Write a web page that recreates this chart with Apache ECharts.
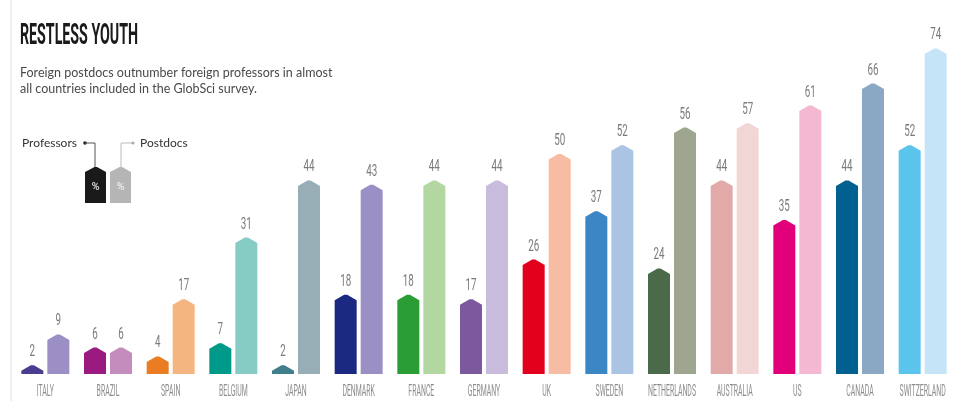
<!DOCTYPE html>
<html>
<head>
<meta charset="utf-8">
<script src="https://cdn.jsdelivr.net/npm/echarts@6/dist/echarts.min.js"></script>
<style>
html,body{margin:0;padding:0;background:#fff;}
#chart{width:954px;height:401px;}
</style>
</head>
<body>
<div id="chart"></div>
<script>
const categories = ['ITALY','BRAZIL','SPAIN','BELGIUM','JAPAN','DENMARK','FRANCE','GERMANY','UK','SWEDEN','NETHERLANDS','AUSTRALIA','US','CANADA','SWITZERLAND'];
const professors = [2,6,4,7,2,18,18,17,26,37,24,44,35,44,52];
const postdocs = [9,6,17,31,44,43,44,44,50,52,56,57,61,66,74];
const profColors = ['#4a3d8f','#9b1a7f','#ea7d22','#009a8a','#3e7f8b','#1b2a80','#2a9d34','#7c599f','#e2001c','#3b86c4','#4b6a4a','#e2a9a9','#e2007a','#00608f','#5bc4ec'];
const postColors = ['#9c8fc6','#c48bbd','#f5b581','#86cbc4','#98aeb6','#9a90c5','#b3d7a0','#c8bbdb','#f7bca4','#acc4e3','#9fa68f','#f2d5d5','#f4b8d3','#8aa8c4','#c6e4f7'];

const BASE = "Roboto, 'DejaVu Sans', sans-serif";
const measureCtx = document.createElement('canvas').getContext('2d');
function fitScale(text, font, width) {
  measureCtx.font = font;
  return width / measureCtx.measureText(text).width;
}
const VAL_FONT = '16px ' + BASE;
const VAL_SCALE = fitScale('44', VAL_FONT, 11);
const CAT_FONT = '16.5px ' + BASE;
const CAT_SCALE = fitScale('NETHERLANDS', CAT_FONT, 48);
const TITLE_FONT = 'bold 29px ' + BASE;
const TITLE_SCALE = fitScale('RESTLESS YOUTH', TITLE_FONT, 118);

function makeRender(colors, offset, withCategory) {
  return function (params, api) {
    const idx = api.value(0);
    const v = api.value(1);
    const base = api.coord([idx, 0]);
    const top = api.coord([idx, v]);
    const cx = base[0] + offset;
    const w = 22;
    const x0 = cx - w / 2, x1 = cx + w / 2;
    const h = base[1] - top[1];
    const ch = Math.min(5.5, h * 0.85);
    const pts = [[x0, base[1]], [x0, top[1] + ch], [cx - 1.5, top[1]], [cx + 1.5, top[1]], [x1, top[1] + ch], [x1, base[1]]];
    const children = [
      { type: 'polygon', shape: { points: pts }, style: { fill: colors[idx] } },
      { type: 'text', x: cx, y: top[1] - 13, scaleX: VAL_SCALE, style: { text: String(v), x: 0, y: 0, align: 'center', verticalAlign: 'middle', fill: '#7a7a7a', font: VAL_FONT } }
    ];
    if (withCategory) {
      children.push({ type: 'text', x: base[0], y: base[1] + 18, scaleX: CAT_SCALE, style: { text: categories[idx], x: 0, y: 0, align: 'center', verticalAlign: 'middle', fill: '#8c8c8c', font: CAT_FONT } });
    }
    return { type: 'group', children: children };
  };
}

const chart = echarts.init(document.getElementById('chart'), null, { renderer: 'canvas' });
chart.setOption({
  backgroundColor: '#fff',
  animation: false,
  grid: { left: 14, right: 0, top: 44, bottom: 27, containLabel: false, outerBoundsMode: 'none' },
  xAxis: {
    type: 'category',
    data: categories,
    axisLine: { show: false },
    axisTick: { show: false },
    axisLabel: { show: false }
  },
  yAxis: { type: 'value', min: 0, max: 75, show: false, splitLine: { show: false } },
  series: [
    { type: 'custom', name: 'Professors', renderItem: makeRender(profColors, -13, true), data: professors.map((v, i) => [i, v]), encode: { x: 0, y: 1 }, clip: false },
    { type: 'custom', name: 'Postdocs', renderItem: makeRender(postColors, 13, false), data: postdocs.map((v, i) => [i, v]), encode: { x: 0, y: 1 }, clip: false }
  ],
  graphic: [
    { type: 'rect', left: 10, top: 0, shape: { width: 2, height: 401 }, style: { fill: '#f0f0f0' } },
    { type: 'text', x: 20, y: 37, scaleX: TITLE_SCALE, style: { text: 'RESTLESS YOUTH', x: 0, y: 0, verticalAlign: 'middle', fill: '#1a1a1a', font: TITLE_FONT } },
    { type: 'text', x: 20, y: 65, style: { text: 'Foreign postdocs outnumber foreign professors in almost\nall countries included in the GlobSci survey.', fill: '#4a4a4a', font: '12.5px Lato, sans-serif', lineHeight: 16 } },
    { type: 'text', x: 22, y: 143, style: { text: 'Professors', fill: '#333', font: '12px Lato, sans-serif', verticalAlign: 'middle' } },
    { type: 'circle', shape: { cx: 85, cy: 143, r: 1.8 }, style: { fill: '#222' } },
    { type: 'polyline', shape: { points: [[85, 143], [95, 143], [95, 168]] }, style: { stroke: '#555', lineWidth: 1, fill: null } },
    { type: 'polygon', shape: { points: [[85, 203], [85, 172], [94.5, 167], [97, 167], [106, 172], [106, 203]] }, style: { fill: '#1a1a1a' } },
    { type: 'text', x: 95.5, y: 187, style: { text: '%', fill: '#d0d0d0', font: 'bold 11px ' + BASE, align: 'center', verticalAlign: 'middle' } },
    { type: 'polygon', shape: { points: [[110, 203], [110, 172], [119.5, 167], [122, 167], [131, 172], [131, 203]] }, style: { fill: '#b5b5b5' } },
    { type: 'text', x: 120.5, y: 187, style: { text: '%', fill: '#e6e6e6', font: 'bold 11px ' + BASE, align: 'center', verticalAlign: 'middle' } },
    { type: 'polyline', shape: { points: [[121, 168], [121, 143], [132, 143]] }, style: { stroke: '#bbb', lineWidth: 1, fill: null } },
    { type: 'circle', shape: { cx: 133, cy: 143, r: 1.5 }, style: { fill: '#aaa' } },
    { type: 'text', x: 140, y: 143, style: { text: 'Postdocs', fill: '#333', font: '12px Lato, sans-serif', verticalAlign: 'middle' } }
  ]
});
</script>
</body>
</html>
